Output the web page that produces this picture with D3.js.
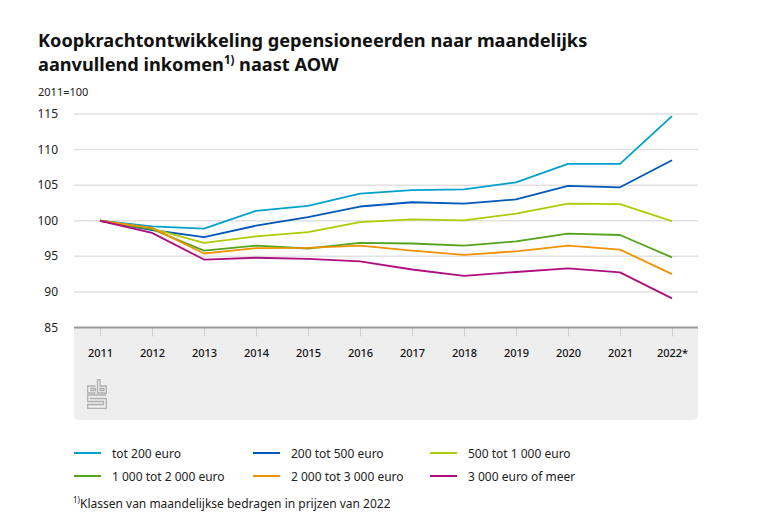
<!DOCTYPE html>
<html><head><meta charset="utf-8">
<script src="https://cdn.jsdelivr.net/npm/d3@7"></script>
<style>body{margin:0;background:#fff}svg{display:block}text{font-family:"Noto Sans","Open Sans",sans-serif}</style>
</head><body><div id="c"></div>
<script>
const years = ["2011","2012","2013","2014","2015","2016","2017","2018","2019","2020","2021","2022*"];
const yTicks = [85,90,95,100,105,110,115];
const seriesNames = ["tot 200 euro","200 tot 500 euro","500 tot 1 000 euro","1 000 tot 2 000 euro","2 000 tot 3 000 euro","3 000 euro of meer"];
const seriesColors = ["#00a1cd","#0058b8","#afcb05","#53a31d","#f39200","#af0e80"];
const tot200   = [100,99.2,98.9,101.4,102.1,103.8,104.3,104.4,105.4,108.0,108.0,114.7];
const t200_500 = [100,98.7,97.7,99.3,100.5,102.0,102.6,102.4,103.0,104.9,104.7,108.5];
const t500_1000= [100,98.9,96.9,97.8,98.4,99.8,100.2,100.05,101.0,102.4,102.35,99.95];
const t1000_2000=[100,98.8,95.8,96.5,96.1,96.9,96.8,96.5,97.1,98.2,98.0,94.85];
const t2000_3000=[100,99.0,95.4,96.15,96.2,96.5,95.8,95.2,95.7,96.5,95.95,92.5];
const t3000plus= [100,98.3,94.55,94.8,94.65,94.3,93.15,92.25,92.8,93.3,92.75,89.1];
const seriesValues = [tot200,t200_500,t500_1000,t1000_2000,t2000_3000,t3000plus];

const W=768,H=518;
const svg=d3.select("#c").append("svg").attr("width",W).attr("height",H);
const x=d3.scalePoint().domain(years).range([100,672]);
const y=d3.scaleLinear().domain([85,115]).range([327.5,114]);

// title
const t=svg.append("text").attr("x",38).attr("y",47).attr("font-size",18.2).attr("font-weight",700).attr("fill","#111");
t.text("Koopkrachtontwikkeling gepensioneerden naar maandelijks");
const t2=svg.append("text").attr("x",38).attr("y",71).attr("font-size",18.2).attr("font-weight",700).attr("fill","#111");
t2.append("tspan").text("aanvullend inkomen");
t2.append("tspan").attr("font-size",11.5).attr("dy",-7).text("1)");
t2.append("tspan").attr("dy",7).text(" naast AOW");
svg.append("text").attr("x",38).attr("y",96).attr("font-size",11).attr("fill","#222").text("2011=100");

// panel
svg.append("rect").attr("x",74).attr("y",327).attr("width",624).attr("height",93).attr("rx",5).attr("fill","#eeeeee");
svg.append("rect").attr("x",74).attr("y",327).attr("width",624).attr("height",10).attr("fill","#eeeeee");

// grid
svg.append("g").selectAll("line").data(yTicks.filter(d=>d>85)).join("line")
  .attr("x1",74).attr("x2",698).attr("y1",d=>y(d)).attr("y2",d=>y(d))
  .attr("stroke","#e1e1e1").attr("stroke-width",1.5);
svg.append("g").selectAll("text").data(yTicks).join("text")
  .attr("x",58).attr("y",d=>y(d)+4).attr("text-anchor","end").attr("font-size",12).attr("fill","#222").text(d=>d);

// x axis
const xa=svg.append("g").attr("transform","translate(0,327.5)").call(d3.axisBottom(x).tickSize(9).tickPadding(13));
xa.select(".domain").remove();
xa.selectAll(".tick line").attr("stroke","#cfcfcf").attr("stroke-width",1);
xa.selectAll(".tick text").attr("font-size",11).attr("fill","#111").attr("font-family","'Noto Sans',sans-serif").attr("font-weight",500).attr("dy","0.71em");
svg.append("line").attr("x1",74).attr("x2",698).attr("y1",327.5).attr("y2",327.5).attr("stroke","#9a9a9a").attr("stroke-width",2);

// lines
const line=d3.line().x((d,i)=>x(years[i])).y(d=>y(d));
svg.append("g").selectAll("path").data(seriesValues).join("path")
  .attr("d",line).attr("fill","none").attr("stroke",(d,i)=>seriesColors[i]).attr("stroke-width",1.8).attr("stroke-linejoin","round");

// cbs logo
const lg=svg.append("g").attr("transform","translate(87,379)").attr("fill","none").attr("stroke","#b0b0b0").attr("stroke-width",1.3);
lg.append("path").attr("d","M8.5,7 H0.7 V14 H8.5 M3,9.5 H8.5 V11.5 H3");
lg.append("path").attr("d","M10.5,0.7 H13 V7 H19.3 V14 H10.5 Z M13,9.5 H17 V11.5 H13 Z");
lg.append("path").attr("d","M19.3,16 H0.7 V22.5 H16.5 V25.5 H0.7 V29.3 H19.3 V19.5 H3.5 V18.5");
// legend
const legPos=[[74,453],[253,453],[430,453],[74,476],[253,476],[430,476]];
const lgd=svg.append("g").selectAll("g").data(seriesNames).join("g").attr("transform",(d,i)=>`translate(${legPos[i][0]},${legPos[i][1]})`);
lgd.append("line").attr("x1",0).attr("x2",27).attr("stroke",(d,i)=>seriesColors[i]).attr("stroke-width",2);
lgd.append("text").attr("x",38).attr("y",4.5).attr("font-size",12).attr("fill","#222").text(d=>d);

// footnote
const fn=svg.append("text").attr("x",73).attr("y",508).attr("font-size",12).attr("fill","#222");
fn.append("tspan").attr("font-size",8).attr("dy",-5).text("1)");
fn.append("tspan").attr("dy",5).text("Klassen van maandelijkse bedragen in prijzen van 2022");
</script></body></html>
